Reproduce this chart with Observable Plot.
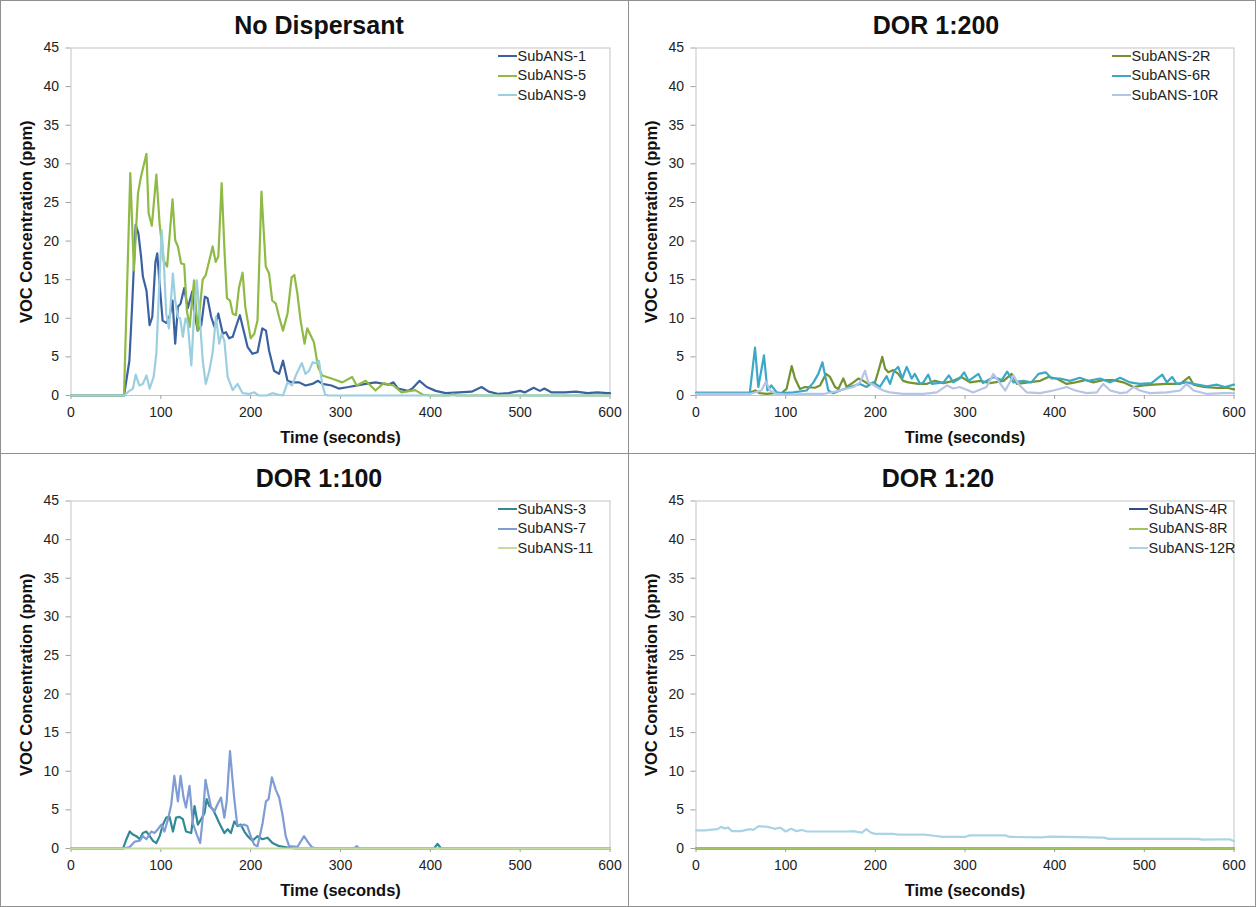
<!DOCTYPE html>
<html>
<head>
<meta charset="utf-8">
<script src="https://cdn.jsdelivr.net/npm/d3@7"></script>
<script src="https://cdn.jsdelivr.net/npm/@observablehq/plot@0.6"></script>
<style>
  html, body { margin: 0; padding: 0; background: #fff; }
  body { font-family: "Liberation Sans", Arial, sans-serif; }
  #grid { position: relative; width: 1256px; height: 907px; background: #fff; }
  .panel { position: absolute; box-sizing: border-box; border: 1.5px solid #8f8f8f; background: #fff; }
  .title { position: absolute; top: 7px; font-size: 25px; font-weight: bold; color: #111; text-align: center; line-height: 34px; }
  .chart { position: absolute; left: 0; top: 40px; }
  .legend { position: absolute; font-size: 14.5px; color: #222; line-height: 19.5px; }
  .legend .row { display: flex; align-items: center; white-space: nowrap; }
  .legend .sw { display: inline-block; width: 19px; height: 2px; margin-right: 1px; }
  g[aria-label="y-axis label"] text, g[aria-label="x-axis label"] text { font-weight: bold; font-size: 16.5px; fill: #111; }
</style>
</head>
<body>
<div id="grid"></div>
<script>
// ---------- data (time in seconds, VOC concentration in ppm) ----------
const xTicks = [0, 100, 200, 300, 400, 500, 600];
const yTicks = [0, 5, 10, 15, 20, 25, 30, 35, 40, 45];

const panelTitles = ["No Dispersant", "DOR 1:200", "DOR 1:100", "DOR 1:20"];
const panelSeries = [
  ["SubANS-1", "SubANS-5", "SubANS-9"],
  ["SubANS-2R", "SubANS-6R", "SubANS-10R"],
  ["SubANS-3", "SubANS-7", "SubANS-11"],
  ["SubANS-4R", "SubANS-8R", "SubANS-12R"]
];

const subANS1 = [[0,0],[59,0],[65,4.5],[68,11.5],[72,22.1],[75,21],[78,18],[80,15.4],[84,13.6],[87.5,9.1],[90.5,10.2],[94,17.3],[96,18.4],[98.6,14.5],[102,9.7],[106,9.4],[109.7,10.2],[113,12.3],[116,6.7],[119,11.5],[122,11.9],[126,13.9],[130,11.3],[135,13.5],[137,11],[141,8.4],[145,9.1],[149,12.8],[152,12.6],[156,10.2],[159.6,8.9],[164,10.6],[169,8],[172.5,8.2],[176,7.4],[180,7.6],[183.6,8.9],[188,10.4],[193,8],[196.5,6.3],[202,5.4],[207.6,5.6],[213,8.7],[217,8.4],[220.5,5.8],[226,3.2],[231.6,2.8],[236,4.5],[241,1.9],[246,1.7],[254,1.7],[261,1.3],[268.6,1.5],[275,1.9],[280,1.5],[290,1.3],[298,0.9],[309,1.1],[328,1.5],[339,1.7],[353,1.4],[359,1.7],[364,0.9],[375,0.6],[380,0.9],[388,1.9],[396,1.1],[406,0.6],[417,0.3],[432,0.4],[446,0.5],[457,1.1],[465,0.5],[476,0.2],[487,0.3],[500,0.6],[505,0.4],[515,1.0],[522,0.6],[527,0.9],[535,0.4],[550,0.4],[562,0.5],[575,0.3],[586,0.4],[597,0.3],[600,0.3]];
const subANS5 = [[0,0],[59,0],[66,28.8],[70,16.2],[74.6,26.2],[78,28.4],[84,31.3],[86.4,23.6],[90,22],[95,28.6],[98.6,22.3],[103,17.5],[107,16.7],[113,25.4],[116,20.1],[119,19.3],[122.6,17.1],[126,17],[129,11],[132,8.9],[137,14.9],[141,8.4],[146.6,15],[150,15.6],[154,17.5],[157.7,19.3],[161,17.3],[164,18],[167.7,27.5],[171,18.4],[173.6,12.6],[177,12.3],[180,10.6],[183.6,10.4],[187,14],[191,15.9],[194,11.5],[200,7.4],[204,8],[207.6,9.7],[212,26.4],[216.8,16.7],[220.5,15.8],[224,12.3],[228,11.9],[231.6,10.2],[236,8.4],[241,10.6],[245.6,15.3],[248.6,15.6],[252,13.2],[255.6,9.7],[260,6.7],[263,8.7],[266.7,7.8],[270.4,6.9],[275,3.7],[279.6,2.6],[290,2.2],[302,1.7],[313,2.4],[318,1.3],[328,1.9],[339,0.65],[348,1.6],[359,1.3],[368,0.4],[383,0.7],[392,0.1],[400,0],[420,0],[425,0.2],[430,0],[600,0]];
const subANS9 = [[0,0],[59,0],[65,0.6],[69,0.9],[72,2.7],[76,1.3],[80,1.5],[84,2.6],[87.5,0.9],[92,2.4],[95,5.4],[97.5,12.3],[101,21.4],[103.4,17.1],[106,10.6],[109,8.7],[113.4,15.8],[116,12.3],[119,10.1],[121.5,10],[124.5,7.6],[127.5,10],[130,9.3],[134,3.9],[137,10.6],[140,14.9],[143,10.6],[146.7,4.5],[150,1.5],[154,3.2],[157.7,5.6],[161.4,10.2],[165,6.7],[167.7,8],[170.7,7.1],[174.4,2.4],[180,0.7],[185.4,1.5],[191,0.3],[198,0.2],[204,0.4],[209,0],[218,0],[224,0.3],[231.6,0.1],[236,0],[241,1.7],[246,1.3],[251,2.8],[257,4.2],[261,2.8],[265,3.2],[269,4.3],[273,4.2],[276,4.5],[279.6,1.5],[283,0.1],[286,0],[600,0]];

const subANS2R = [[0,0.35],[60,0.35],[66,0.65],[71,0.3],[78.7,0.2],[88,0.3],[95.5,0.3],[101,0.85],[106.7,3.8],[110.4,2.2],[116,0.85],[121.6,1.1],[132.7,1.0],[138.3,1.3],[145,2.8],[149.5,2.4],[155,1.1],[158.7,0.85],[164.3,2.2],[168,1.1],[175.5,1.7],[181,2.2],[186.6,1.9],[192,1.5],[199.6,1.7],[203,3.0],[207.8,5.0],[210.8,3.5],[214.5,3.0],[220,3.3],[225.6,2.8],[231,1.9],[236.8,1.7],[248,1.5],[257,1.5],[266.5,1.9],[276,1.6],[287,1.9],[296,2.4],[305.6,1.7],[317,1.9],[328,1.6],[343,1.9],[352,2.8],[358,1.5],[370.6,1.7],[383.8,1.9],[393,2.4],[402,2.2],[413.4,1.5],[423,1.7],[434,2.0],[443,1.7],[454,2.0],[465.6,2.0],[476.6,1.7],[488,1.1],[499,1.3],[510,1.4],[525,1.5],[540,1.5],[550,2.4],[555,1.4],[566,1.1],[581,1.0],[592,1.0],[600,0.8]];
const subANS6R = [[0,0.35],[60,0.35],[65.8,6.2],[69.5,1.1],[75.8,5.2],[79.6,0.65],[84,1.3],[90,0.4],[95.5,0.3],[108.6,0.4],[123.4,0.65],[131,1.7],[136.4,2.8],[141,4.3],[144,2.6],[147.6,0.65],[153,0.3],[160.6,0.65],[171.7,1.1],[183,1.5],[190,1.1],[198,1.7],[205,1.1],[212.6,2.5],[216.4,1.5],[221,3.2],[225.6,3.7],[230,2.2],[235,3.7],[240.5,2.2],[244,2.8],[250,1.5],[253.5,1.7],[259,2.7],[263,1.5],[276,1.7],[282,2.6],[287,1.7],[294,2.2],[299,3.0],[304,1.9],[315,2.8],[320,1.6],[331.6,2.4],[341,2.0],[347,3.1],[354,1.7],[365,1.9],[374,1.7],[382,2.8],[390,3.0],[396.7,2.2],[406,2.2],[417,1.9],[428,2.3],[437.6,1.9],[450.6,2.2],[462,1.7],[473,2.3],[484,1.7],[495,1.5],[508,1.6],[520,2.7],[525,1.7],[531,2.4],[536,1.5],[547.3,1.7],[554.8,1.5],[569.7,1.2],[581,1.4],[590,1.1],[600,1.4]];
const subANS10R = [[0,0.2],[60,0.2],[73,0.65],[78,1.8],[82.5,0.65],[90,0.2],[105,0.1],[123,0.2],[142,0.2],[160.6,0.65],[175.5,1.1],[183,1.7],[188.5,3.2],[192,1.7],[196,1.5],[201.5,1.1],[209,0.65],[216,0.4],[231,0.2],[253.5,0.2],[268.5,0.4],[280,1.3],[287,0.9],[294,1.1],[304,0.65],[309,0.4],[324,1.1],[331.6,2.8],[337,1.9],[345,0.65],[354,2.6],[359.5,1.5],[369,0.4],[383.8,0.3],[398.6,0.65],[413.4,1.1],[423,0.65],[435.6,0.3],[447,0.4],[454,1.5],[462,0.65],[473,0.3],[480.4,0.4],[488,1.1],[495,0.65],[506,0.3],[525,0.4],[540,0.65],[547,1.5],[555,0.65],[570,0.2],[588,0.3],[600,0.3]];

const subANS3 = [[0,0],[58,0],[61.7,1.2],[65.4,2.2],[69,1.8],[72.8,1.6],[76.5,1.2],[80,2.0],[84,2.2],[87.6,1.6],[91.3,1.0],[95,0.7],[98.7,1.6],[102.4,3.1],[106,4.0],[109.7,4.1],[113.5,2.2],[117,4.0],[120.8,4.1],[124.5,3.8],[128,2.2],[133.8,2.0],[137.5,5.5],[141.2,3.1],[144.9,3.8],[148.6,4.6],[151,6.4],[154,5.5],[157.8,5.1],[161.5,4.2],[165,3.3],[170.7,2.0],[174.4,2.5],[178,2.0],[181.8,3.5],[185.5,2.9],[189,3.1],[193,2.2],[196.6,1.6],[202,1.0],[207.7,1.6],[213,1.2],[218.8,1.4],[224.3,0.7],[231.7,0.3],[242.8,0.1],[250,0],[404,0],[408,0.6],[412,0],[600,0]];
const subANS7 = [[0,0],[58,0],[65.4,0.2],[71,0.9],[76.5,1.0],[80,1.6],[84,1.2],[89.4,2.2],[93,2.0],[96.8,2.5],[100.5,3.1],[104,2.2],[108,3.8],[111.6,5.7],[115,9.4],[119,6.1],[122,9.4],[125.3,6.6],[128,5.3],[131.9,8.1],[135.6,3.3],[140,1.8],[143.8,0.7],[146.7,4.0],[149.7,8.9],[152.6,7.2],[156,5.3],[159.6,4.8],[163,5.7],[167,6.6],[170.7,4.0],[173.3,6.1],[177,12.6],[181.6,6.6],[185,3.1],[189,2.9],[192.6,3.1],[196.3,2.9],[200,1.6],[204,0.5],[207.6,0.3],[213,3.1],[217,6.1],[220,6.4],[223.6,9.2],[228,7.6],[231.7,6.6],[235.4,4.4],[239,1.6],[242.8,0.3],[252,0.2],[259.4,1.6],[264,0.8],[268,0.2],[272,0],[315,0],[318,0.3],[321,0],[600,0]];
const subANS11 = [[0,0],[100,0],[200,0],[300,0],[400,0],[500,0],[600,0]];

const subANS4R = [[0,0],[100,0],[200,0],[300,0],[400,0],[500,0],[600,0]];
const subANS8R = [[0,0],[100,0],[200,0],[300,0],[400,0],[500,0],[600,0]];
const subANS12R = [[0,2.35],[10,2.35],[24,2.5],[28,2.8],[32,2.6],[36,2.7],[40,2.25],[50,2.25],[60,2.5],[64,2.4],[70,2.9],[80,2.8],[88,2.55],[94,2.7],[100,2.2],[106,2.55],[112,2.25],[118,2.4],[124,2.2],[150,2.2],[170,2.2],[175,2.25],[185,2.05],[190,2.5],[195,2.05],[200,1.9],[220,1.9],[225,1.8],[255,1.8],[265,1.65],[275,1.5],[300,1.5],[305,1.7],[345,1.7],[350,1.5],[385,1.45],[395,1.55],[410,1.5],[455,1.4],[460,1.25],[560,1.25],[565,1.15],[595,1.2],[600,0.95]];

const panelData = [
  [subANS1, subANS5, subANS9],
  [subANS2R, subANS6R, subANS10R],
  [subANS3, subANS7, subANS11],
  [subANS4R, subANS8R, subANS12R]
];

// ---------- styles ----------
const panelColors = [
  ["#3b62a0", "#8fba45", "#9bcfe0"],
  ["#74922f", "#3ba9c6", "#b6c5e5"],
  ["#2f8a95", "#7f9cd4", "#c6dba0"],
  ["#2c4f8c", "#a2c45f", "#aad3e4"]
];
const panelBoxes = [
  {left: 0, top: 0, w: 629, h: 454, ml: 71, mr: 19, titleCx: 318, legX: 498},
  {left: 628, top: 0, w: 628, h: 454, ml: 68, mr: 22, titleCx: 307, legX: 484},
  {left: 0, top: 453, w: 629, h: 454, ml: 71, mr: 19, titleCx: 318, legX: 498},
  {left: 628, top: 453, w: 628, h: 454, ml: 68, mr: 22, titleCx: 309, legX: 501}
];

const grid = document.getElementById("grid");

panelBoxes.forEach((b, i) => {
  const panel = document.createElement("div");
  panel.className = "panel";
  panel.style.left = b.left + "px";
  panel.style.top = b.top + "px";
  panel.style.width = b.w + "px";
  panel.style.height = b.h + "px";
  grid.appendChild(panel);

  const title = document.createElement("div");
  title.className = "title";
  title.textContent = panelTitles[i];
  title.style.left = (b.titleCx - 150) + "px";
  title.style.width = "300px";
  panel.appendChild(title);

  const marks = [
    Plot.frame({stroke: "#c4c4c4", strokeWidth: 1}),
    Plot.axisY({ticks: yTicks, tickSize: 5, tickPadding: 7, stroke: "#a0a0a0", fill: "#222",
      label: "VOC Concentration (ppm)", labelAnchor: "center", labelArrow: "none", labelOffset: 51}),
    Plot.axisX({ticks: xTicks, tickSize: 4, tickPadding: 8, stroke: "#a0a0a0", fill: "#222",
      label: "Time (seconds)", labelAnchor: "center", labelArrow: "none", labelOffset: 47})
  ];
  panelData[i].forEach((series, k) => {
    marks.push(Plot.line(series, {x: d => d[0], y: d => d[1], stroke: panelColors[i][k], strokeWidth: 2.2, strokeLinejoin: "round"}));
  });

  const chart = Plot.plot({
    width: b.w - 3,
    height: 410,
    marginLeft: b.ml - 1.5,
    marginRight: b.mr - 1.5,
    marginTop: 6.5,
    marginBottom: 56,
    x: {domain: [0, 600]},
    y: {domain: [0, 45]},
    style: {fontFamily: '"Liberation Sans", Arial, sans-serif', fontSize: "14px", color: "#222", background: "transparent", overflow: "visible"},
    marks
  });
  chart.classList.add("chart");
  panel.appendChild(chart);

  const legend = document.createElement("div");
  legend.className = "legend";
  legend.style.left = (b.legX - 1.5) + "px";
  legend.style.top = (45.5) + "px";
  panelSeries[i].forEach((name, k) => {
    const row = document.createElement("div");
    row.className = "row";
    const sw = document.createElement("span");
    sw.className = "sw";
    sw.style.background = panelColors[i][k];
    const tx = document.createElement("span");
    tx.textContent = name;
    row.appendChild(sw);
    row.appendChild(tx);
    legend.appendChild(row);
  });
  panel.appendChild(legend);
});
</script>
</body>
</html>
